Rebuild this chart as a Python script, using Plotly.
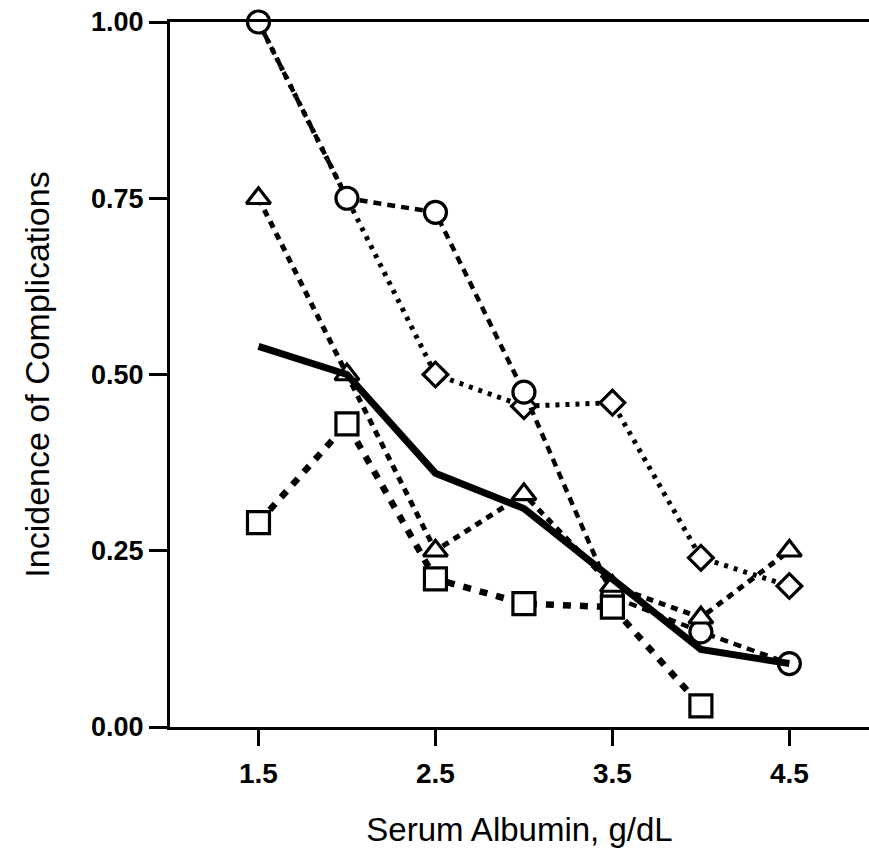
import plotly.graph_objects as go

# ---- data ----
albumin = [1.5, 2.0, 2.5, 3.0, 3.5, 4.0, 4.5]
circle_series = [1.00, 0.75, 0.73, 0.475, 0.185, 0.135, 0.09]
diamond_series = [1.00, 0.75, 0.50, 0.455, 0.46, 0.24, 0.20]
triangle_series = [0.75, 0.50, 0.25, 0.33, 0.20, 0.155, 0.25]
square_x = [1.5, 2.0, 2.5, 3.0, 3.5, 4.0]
square_series = [0.29, 0.43, 0.21, 0.175, 0.17, 0.03]
overall_series = [0.54, 0.50, 0.36, 0.31, 0.21, 0.11, 0.09]

x_ticks = [1.5, 2.5, 3.5, 4.5]
x_tick_text = ["1.5", "2.5", "3.5", "4.5"]
y_ticks = [0.0, 0.25, 0.5, 0.75, 1.0]
y_tick_text = ["0.00", "0.25", "0.50", "0.75", "1.00"]

FONT = "Liberation Sans, Arial, sans-serif"

fig = go.Figure()

# diamond series (dotted) - line through all points
fig.add_trace(go.Scatter(
    x=albumin, y=diamond_series, mode="lines", cliponaxis=False,
    line=dict(color="black", width=5, dash="4px,6px"),
    showlegend=False))
# diamond markers (first two points are hidden under the circles)
fig.add_trace(go.Scatter(
    x=albumin[2:], y=diamond_series[2:], mode="markers", cliponaxis=False,
    marker=dict(symbol="diamond", size=19, color="white",
                line=dict(color="black", width=3.2)),
    showlegend=False))

# circle series (dashed)
fig.add_trace(go.Scatter(
    x=albumin, y=circle_series, mode="lines+markers", cliponaxis=False,
    line=dict(color="black", width=4.5, dash="8px,6px"),
    marker=dict(symbol="circle", size=22, color="white",
                line=dict(color="black", width=3.2)),
    showlegend=False))

# triangle series (dashed)
fig.add_trace(go.Scatter(
    x=albumin, y=triangle_series, mode="lines+markers", cliponaxis=False,
    line=dict(color="black", width=5, dash="7px,6px"),
    marker=dict(symbol="triangle-up", size=21, color="white",
                line=dict(color="black", width=3.2)),
    showlegend=False))

# square series (heavy dashed)
fig.add_trace(go.Scatter(
    x=square_x, y=square_series, mode="lines+markers", cliponaxis=False,
    line=dict(color="black", width=6.5, dash="8px,9px"),
    marker=dict(symbol="square", size=22, color="white",
                line=dict(color="black", width=3.2)),
    showlegend=False))

# overall (solid, no markers)
fig.add_trace(go.Scatter(
    x=albumin, y=overall_series, mode="lines", cliponaxis=False,
    line=dict(color="black", width=7),
    showlegend=False))

fig.update_layout(
    width=869, height=858,
    margin=dict(l=170, r=0, t=22, b=131),
    paper_bgcolor="white", plot_bgcolor="white",
    font=dict(family=FONT, color="black"),
    xaxis=dict(
        range=[1.0, 4.95], showgrid=False, zeroline=False,
        showline=True, linecolor="black", linewidth=3, mirror=True,
        ticks="outside", ticklen=16, tickwidth=2.5, tickcolor="black",
        tickvals=x_ticks, ticktext=x_tick_text,
        tickfont=dict(size=28, family=FONT, weight="bold"), ticklabelstandoff=3,
        title=dict(text="Serum Albumin, g/dL", font=dict(size=33, family=FONT),
                   standoff=31),
    ),
    yaxis=dict(
        range=[0, 1], showgrid=False, zeroline=False,
        showline=True, linecolor="black", linewidth=3,
        ticks="outside", ticklen=18, tickwidth=2.5, tickcolor="black",
        tickvals=y_ticks, ticktext=y_tick_text,
        tickfont=dict(size=27, family=FONT, weight="bold"), ticklabelstandoff=0,
        title=dict(text="Incidence of Complications", font=dict(size=34, family=FONT),
                   standoff=32),
    ),
)

fig.write_html("out.html")
